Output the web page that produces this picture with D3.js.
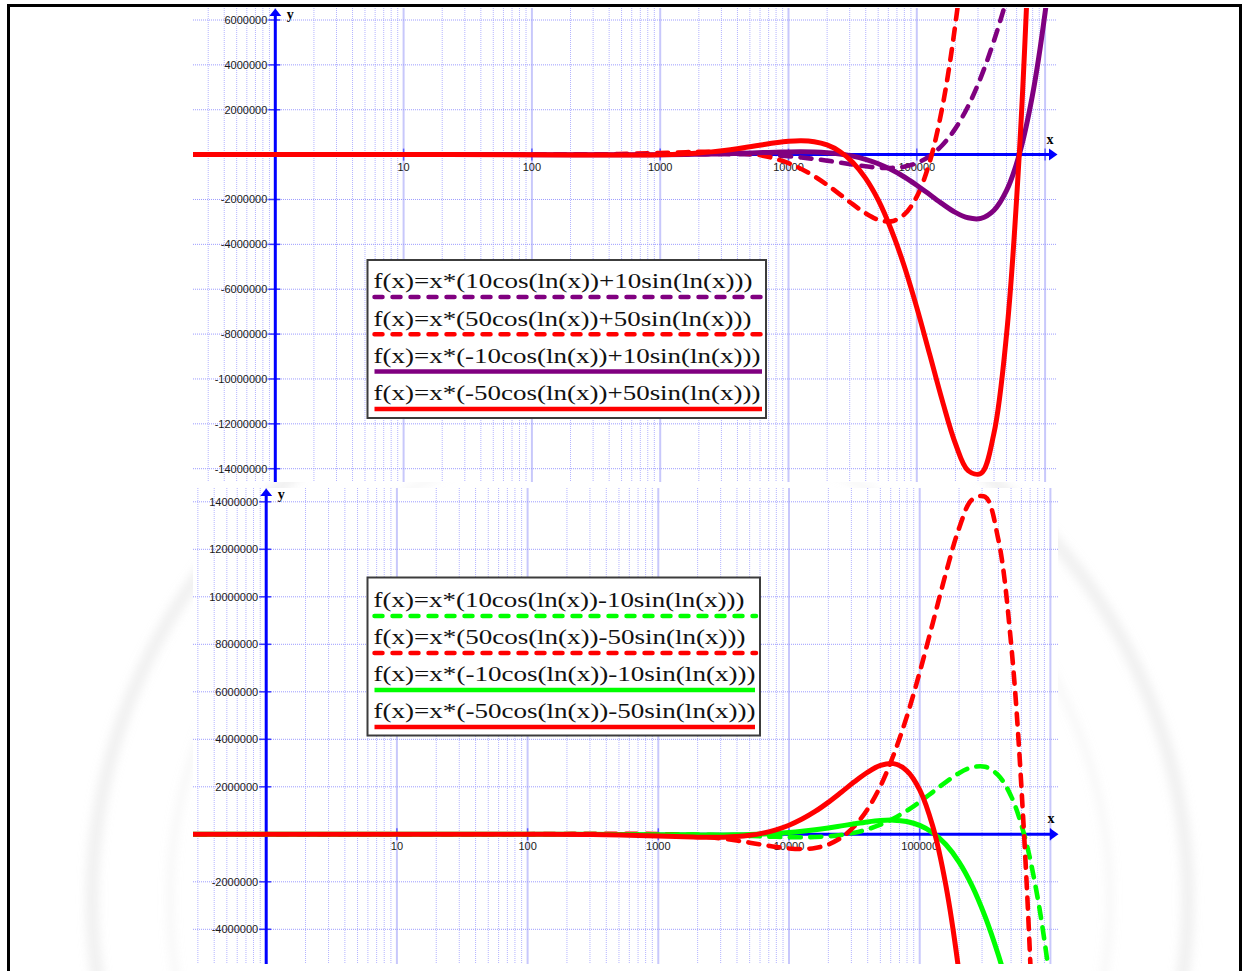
<!DOCTYPE html>
<head>
  <meta charset="utf-8">
  <script src="https://d3js.org/d3.v7.min.js"></script>
  <style>
    body { margin:0; background:#fff; }
    svg { display:block; }
  </style>
</head>
<body>
<script>
var width = 1242, height = 971;

// x positions the values were read at (log axis)
var xs = [0.2, 1, 10, 100, 316, 1000, 1585, 1995, 2512, 3162, 3981, 5012, 6310, 7943,
  10000, 12589, 15849, 19953, 25119, 31623, 39811, 50119, 63096, 79433,
  100000, 125893, 158489, 199526, 251189, 316228, 398107, 501187, 630957, 794328,
  1000000, 1258925, 1584893];

// upper chart
var purpleDashTop = [-2, 10, 8, -1100, 1140, 13960, 21420, 24350, 25740, 24460, 19370, 8470, -9820, -37560,
  -76440, -128300, -192300, -268900, -354200, -442200, -522100, -580100, -595200, -537000,
  -374800, -67300, 428600, 1157000, 2158000, 3456000, 5051000, 6906000, 8923000, 10928000,
  12656000, 13679000, 13484000];
var redDashTop = [-10, 50, 40, -5500, 5700, 69800, 107100, 121800, 128700, 122300, 96900, 42400, -49100, -187800,
  -382200, -641500, -961500, -1344500, -1771000, -2211000, -2610500, -2900500, -2976000, -2685000,
  -1874000, -336500, 2143000, 5785000, 10790000, 17280000, 25255000, 34530000, 44615000, 54640000,
  63280000, 68395000, 67420000];
var purpleSolidTop = [-2, -10, 141, -890, -4320, -2260, 6620, 14260, 24480, 37400, 52890, 70370, 88670, 105900,
  119000, 123900, 115200, 86100, 27960, -67500, -209800, -406400, -668000, -986500,
  -1364000, -1779000, -2198000, -2573000, -2817000, -2842000, -2491000, -1597000, 28550, 2599000,
  6326000, 11386000, 17893000];
var redSolidTop = [-10, -50, 705, -4450, -21600, -11300, 33100, 71300, 122400, 187000, 264450, 351850, 443350, 529500,
  595000, 619500, 576000, 430500, 139800, -337500, -1049000, -2032000, -3340000, -4932500,
  -6820000, -8895000, -10990000, -12865000, -14085000, -14210000, -12455000, -7985000, 142750, 12995000,
  31630000, 56930000, 89465000];

// lower chart
var greenDashBot = [2, 10, -141, 890, 4320, 2260, -6620, -14260, -24480, -37400, -52890, -70370, -88670, -105900,
  -119000, -123900, -115200, -86100, -27960, 67500, 209800, 406400, 668000, 986500,
  1364000, 1779000, 2198000, 2573000, 2817000, 2842000, 2491000, 1597000, -28550, -2599000,
  -6326000, -11386000, -17893000];
var redDashBot = [10, 50, -705, 4450, 21600, 11300, -33100, -71300, -122400, -187000, -264450, -351850, -443350, -529500,
  -595000, -619500, -576000, -430500, -139800, 337500, 1049000, 2032000, 3340000, 4932500,
  6820000, 8895000, 10990000, 12865000, 14085000, 14210000, 12455000, 7985000, -142750, -12995000,
  -31630000, -56930000, -89465000];
var greenSolidBot = [2, -10, -8, 1100, -1140, -13960, -21420, -24350, -25740, -24460, -19370, -8470, 9820, 37560,
  76440, 128300, 192300, 268900, 354200, 442200, 522100, 580100, 595200, 537000,
  374800, 67300, -428600, -1157000, -2158000, -3456000, -5051000, -6906000, -8923000, -10928000,
  -12656000, -13679000, -13484000];
var redSolidBot = [10, -50, -40, 5500, -5700, -69800, -107100, -121800, -128700, -122300, -96900, -42400, 49100, 187800,
  382200, 641500, 961500, 1344500, 1771000, 2211000, 2610500, 2900500, 2976000, 2685000,
  1874000, 336500, -2143000, -5785000, -10790000, -17280000, -25255000, -34530000, -44615000, -54640000,
  -63280000, -68395000, -67420000];

var topYTicks = [6000000, 4000000, 2000000, -2000000, -4000000, -6000000, -8000000, -10000000, -12000000, -14000000];
var botYTicks = [14000000, 12000000, 10000000, 8000000, 6000000, 4000000, 2000000, -2000000, -4000000];
var xTickLabels = [10, 100, 1000, 10000, 100000];

var topLabels = ["f(x)=x*(10cos(ln(x))+10sin(ln(x)))", "f(x)=x*(50cos(ln(x))+50sin(ln(x)))",
  "f(x)=x*(-10cos(ln(x))+10sin(ln(x)))", "f(x)=x*(-50cos(ln(x))+50sin(ln(x)))"];
var botLabels = ["f(x)=x*(10cos(ln(x))-10sin(ln(x)))", "f(x)=x*(50cos(ln(x))-50sin(ln(x)))",
  "f(x)=x*(-10cos(ln(x))-10sin(ln(x)))", "f(x)=x*(-50cos(ln(x))-50sin(ln(x)))"];

var svg = d3.select("body").append("svg")
  .attr("width", width)
  .attr("height", height);

var defs = svg.append("defs");
defs.append("filter").attr("id", "blur")
  .append("feGaussianBlur").attr("stdDeviation", 4);

// faint seal in the page background
var wm = svg.append("g").attr("filter", "url(#blur)");
wm.append("circle").attr("cx", 640).attr("cy", 900).attr("r", 548)
  .attr("fill", "none").attr("stroke", "#d0d0d0").attr("stroke-width", 14).attr("opacity", 0.3);
wm.append("circle").attr("cx", 640).attr("cy", 900).attr("r", 470)
  .attr("fill", "none").attr("stroke", "#d4d4d4").attr("stroke-width", 8).attr("opacity", 0.18);

function drawPanel(p) {
  var g = svg.append("g");
  var x = d3.scaleLog().domain([1, 1e6]).range([p.x0, p.x0 + 6 * p.dec]);
  var y = d3.scaleLinear().domain(p.ydom).range(p.yrange);

  g.append("rect")
    .attr("x", p.left).attr("y", p.top)
    .attr("width", p.right - p.left).attr("height", p.bottom - p.top)
    .attr("fill", "#fff");

  defs.append("clipPath").attr("id", p.id)
    .append("rect")
    .attr("x", p.left).attr("y", p.top)
    .attr("width", p.right - p.left).attr("height", p.bottom - p.top);

  // vertical grid: 1..9 of each decade
  var vlines = [];
  for (var e = -1; e <= 6; e++) {
    for (var k = 1; k <= 9; k++) {
      var v = k * Math.pow(10, e);
      var px = x(v);
      if (px > p.left + 1 && px < p.right - 1) vlines.push({ px: px, major: k === 1 });
    }
  }
  g.selectAll(".vgrid").data(vlines).enter().append("line")
    .attr("x1", function(d){ return d.px; }).attr("x2", function(d){ return d.px; })
    .attr("y1", p.top).attr("y2", p.bottom)
    .attr("stroke", function(d){ return d.major ? "#c8c8fb" : "#b4b4ff"; })
    .attr("stroke-width", function(d){ return d.major ? 2 : 1; })
    .attr("stroke-dasharray", function(d){ return d.major ? null : "1,1"; });

  g.selectAll(".hgrid").data(p.yticks).enter().append("line")
    .attr("x1", p.left).attr("x2", p.right)
    .attr("y1", function(d){ return y(d); }).attr("y2", function(d){ return y(d); })
    .attr("stroke", "#9c9cff").attr("stroke-width", 1).attr("stroke-dasharray", "1,1");

  var ax = x(1), ay = y(0);

  // y tick labels and marks
  g.selectAll(".ylab").data(p.yticks).enter().append("text")
    .attr("x", ax - 8).attr("y", function(d){ return y(d); })
    .attr("dy", "0.36em").attr("text-anchor", "end")
    .attr("font-family", "Liberation Sans, Arial, sans-serif").attr("font-size", 11)
    .attr("fill", "#1a1a1a")
    .text(function(d){ return String(d); });
  g.selectAll(".ytick").data(p.yticks).enter().append("line")
    .attr("x1", ax - 7).attr("x2", ax + 5)
    .attr("y1", function(d){ return y(d); }).attr("y2", function(d){ return y(d); })
    .attr("stroke", "#3a3aff").attr("stroke-width", 1.5);

  // x tick labels and marks
  g.selectAll(".xlab").data(xTickLabels).enter().append("text")
    .attr("x", function(d){ return x(d); }).attr("y", ay + 16)
    .attr("text-anchor", "middle")
    .attr("font-family", "Liberation Sans, Arial, sans-serif").attr("font-size", 11)
    .attr("fill", "#1a1a1a")
    .text(function(d){ return String(d); });
  g.selectAll(".xtick").data(xTickLabels.concat([1000000])).enter().append("line")
    .attr("x1", function(d){ return x(d); }).attr("x2", function(d){ return x(d); })
    .attr("y1", ay - 6).attr("y2", ay + 6)
    .attr("stroke", "#5a5aff").attr("stroke-width", 1.5);

  // axes
  g.append("line").attr("x1", p.left).attr("x2", p.right - 6)
    .attr("y1", ay).attr("y2", ay)
    .attr("stroke", "#0000ff").attr("stroke-width", 3);
  g.append("path")
    .attr("d", "M" + (p.right - 8) + "," + (ay - 6) + "L" + (p.right + 0.5) + "," + ay + "L" + (p.right - 8) + "," + (ay + 6) + "Z")
    .attr("fill", "#0000ff");
  g.append("line").attr("x1", ax).attr("x2", ax)
    .attr("y1", p.bottom).attr("y2", p.top + 6)
    .attr("stroke", "#0000ff").attr("stroke-width", 3);
  g.append("path")
    .attr("d", "M" + (ax - 6) + "," + (p.top + 8) + "L" + ax + "," + (p.top + 0.5) + "L" + (ax + 6) + "," + (p.top + 8) + "Z")
    .attr("fill", "#0000ff");

  g.append("text").attr("x", p.right - 7).attr("y", ay - 11)
    .attr("text-anchor", "middle")
    .attr("font-family", "Liberation Serif, Times New Roman, serif")
    .attr("font-weight", "bold").attr("font-size", 14)
    .text("x");
  g.append("text").attr("x", ax + 15).attr("y", p.top + 11)
    .attr("text-anchor", "middle")
    .attr("font-family", "Liberation Serif, Times New Roman, serif")
    .attr("font-weight", "bold").attr("font-size", 14)
    .text("y");

  // curves
  var line = d3.line()
    .x(function(d){ return x(d[0]); })
    .y(function(d){ return y(d[1]); })
    .curve(d3.curveCatmullRom.alpha(0.5));

  var cg = g.append("g").attr("clip-path", "url(#" + p.id + ")");
  p.series.forEach(function(s) {
    var pts = xs.map(function(xv, i){ return [xv, s.values[i]]; });
    cg.append("path")
      .datum(pts)
      .attr("d", line)
      .attr("fill", "none")
      .attr("stroke", s.color)
      .attr("stroke-width", s.dash ? 4.6 : 5)
      .attr("stroke-linecap", "round")
      .attr("stroke-linejoin", "round")
      .attr("stroke-dasharray", s.dash ? "11,9.5" : null);
  });

  // legend
  var L = p.legend;
  var lg = g.append("g");
  lg.append("rect")
    .attr("x", L.x).attr("y", L.y).attr("width", L.w).attr("height", L.h)
    .attr("fill", "#fff").attr("stroke", "#3c3c3c").attr("stroke-width", 2);
  p.series.forEach(function(s, i) {
    var base = L.y + L.first + i * L.step;
    lg.append("text")
      .attr("x", L.x + 6).attr("y", base)
      .attr("font-family", "Liberation Serif, Times New Roman, serif")
      .attr("font-size", 21.5)
      .attr("fill", "#111")
      .attr("textLength", L.textW[i]).attr("lengthAdjust", "spacingAndGlyphs")
      .text(s.label);
    lg.append("line")
      .attr("x1", L.x + 7).attr("x2", L.lineEnd[i])
      .attr("y1", base + 8.7).attr("y2", base + 8.7)
      .attr("stroke", s.color).attr("stroke-width", 4.5)
      .attr("stroke-linecap", s.dash ? "round" : "butt")
      .attr("stroke-dasharray", s.dash ? "8,10" : null);
  });
}

drawPanel({
  id: "clipTop",
  left: 193, right: 1057, top: 8, bottom: 482,
  x0: 275.3, dec: 128.3,
  ydom: [-14000000, 6000000], yrange: [468.7, 20],
  yticks: topYTicks,
  series: [
    { values: purpleDashTop, color: "#800080", dash: true, label: topLabels[0] },
    { values: redDashTop, color: "#ff0000", dash: true, label: topLabels[1] },
    { values: purpleSolidTop, color: "#800080", dash: false, label: topLabels[2] },
    { values: redSolidTop, color: "#ff0000", dash: false, label: topLabels[3] }
  ],
  legend: { x: 367.5, y: 260, w: 398.5, h: 158, first: 28.3, step: 37.3,
    textW: [379, 378, 387, 387], lineEnd: [764, 764, 762, 762] }
});

drawPanel({
  id: "clipBot",
  left: 193, right: 1058, top: 488, bottom: 964,
  x0: 266.2, dec: 130.7,
  ydom: [-4000000, 14000000], yrange: [929.3, 501.8],
  yticks: botYTicks,
  series: [
    { values: greenDashBot, color: "#00ff00", dash: true, label: botLabels[0] },
    { values: redDashBot, color: "#ff0000", dash: true, label: botLabels[1] },
    { values: greenSolidBot, color: "#00ff00", dash: false, label: botLabels[2] },
    { values: redSolidBot, color: "#ff0000", dash: false, label: botLabels[3] }
  ],
  legend: { x: 367.5, y: 577.5, w: 392.5, h: 158, first: 29.8, step: 37,
    textW: [371, 372, 382, 382], lineEnd: [756, 756, 755, 755] }
});

// page frame
svg.append("path")
  .attr("d", "M8.5,980 L8.5,5.5 L1240.5,5.5 L1240.5,980")
  .attr("fill", "none").attr("stroke", "#000").attr("stroke-width", 3);
</script>
</body>
